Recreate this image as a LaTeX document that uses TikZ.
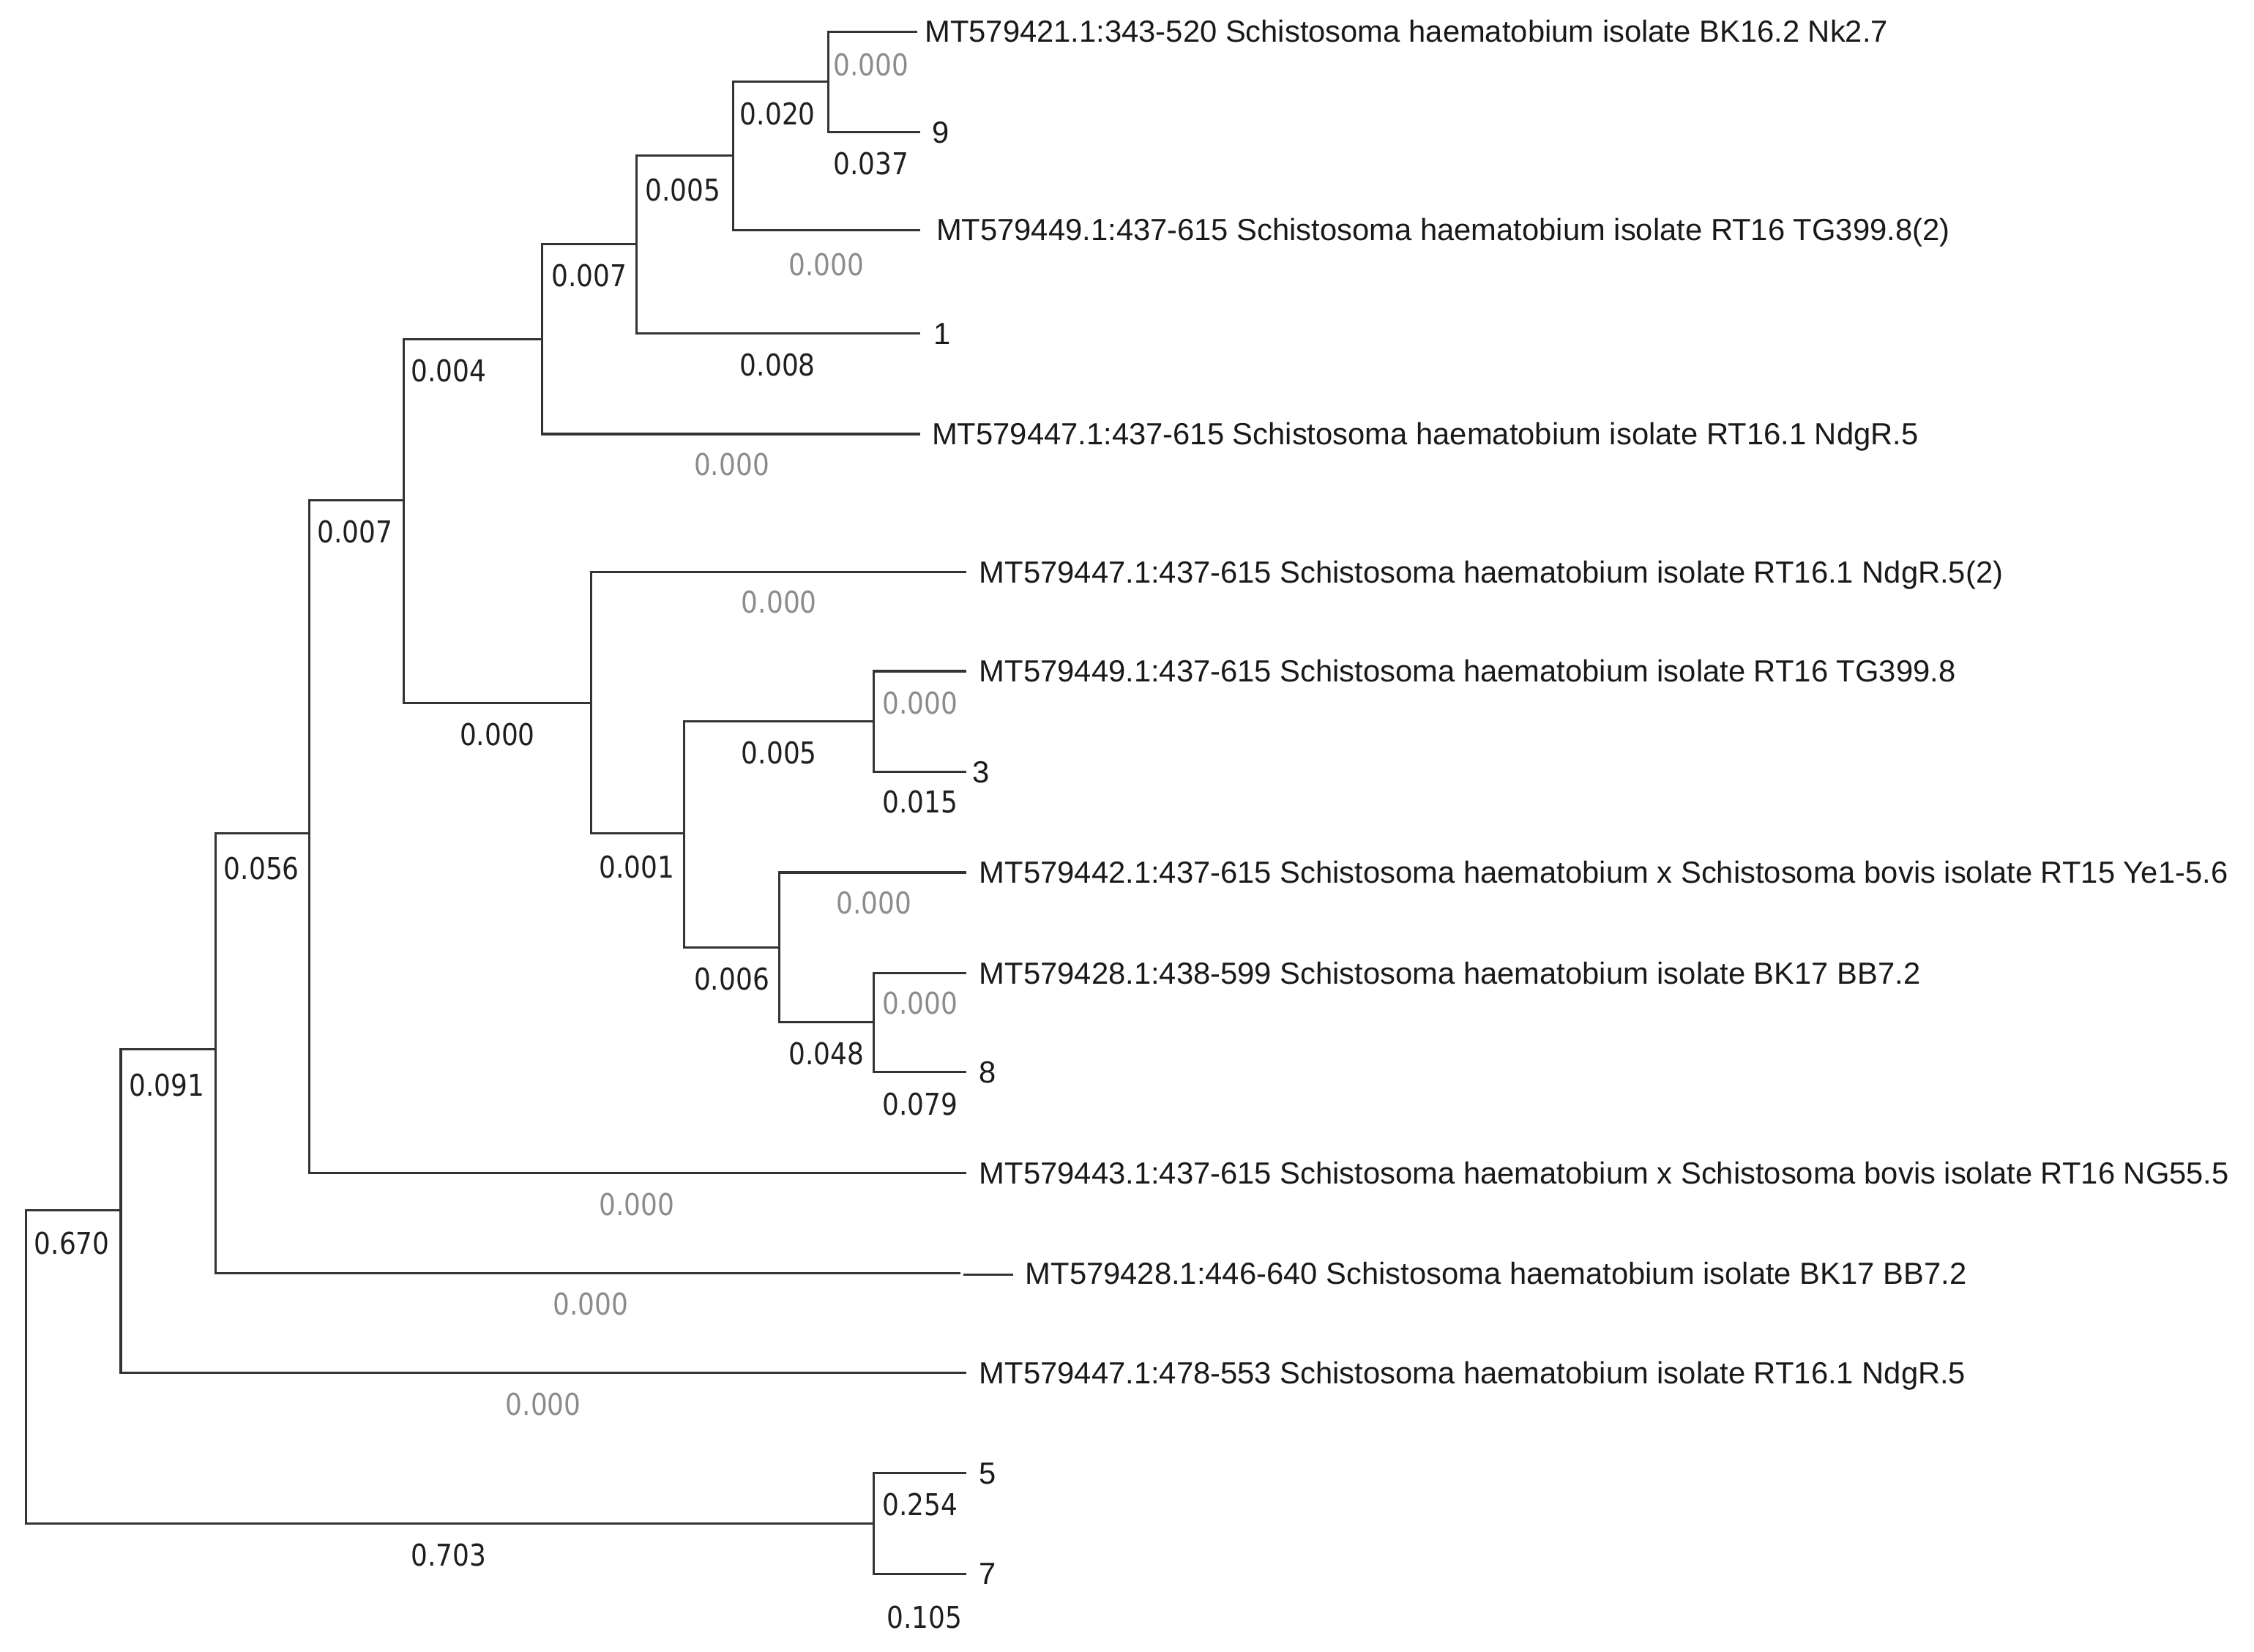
\documentclass[tikz,border=0pt]{standalone}
\usepackage{fontspec}
\setmainfont{Liberation Sans}
\newfontfamily\numfont{DejaVu Sans}
\newcommand\brnum[1]{\scalebox{0.875}[1]{\numfont #1}}
\begin{document}
\begin{tikzpicture}[x=0.02cm,y=-0.02cm,
  br/.style={draw=black!80, line width=0.9pt},
  leaflab/.style={anchor=west, inner sep=0pt, text height=0.30cm, text depth=0pt,
    font=\fontsize{12.1}{14}\selectfont, text=black!90},
  blab/.style={inner sep=0pt, text height=0.305cm, text depth=0pt,
    font=\fontsize{11.9}{14}\selectfont, text=black!88},
  glab/.style={blab, text=black!45}]
\useasboundingbox (0,0) rectangle (1568,1149);
% internal nodes (x, y of incoming branch)
\coordinate (R) at (18,951);
\coordinate (A) at (84,842);
\coordinate (B) at (150,730);
\coordinate (C) at (215,580);
\coordinate (D) at (281,348);
\coordinate (E) at (377,236);
\coordinate (G) at (443,170);
\coordinate (H) at (510,108);
\coordinate (I) at (576,57);
\coordinate (F) at (411,489);
\coordinate (J) at (476,580);
\coordinate (K) at (608,502);
\coordinate (L) at (542,659);
\coordinate (M) at (608,711);
\coordinate (N) at (608,1060);
% leaf ends
\coordinate (e1) at (638,22);
\coordinate (e2) at (640,92);
\coordinate (e3) at (640,160);
\coordinate (e4) at (640,232);
\coordinate (e5) at (640,302);
\coordinate (e6) at (672,398);
\coordinate (e7) at (672,467);
\coordinate (e8) at (672,537);
\coordinate (e9) at (672,607);
\coordinate (e10) at (672,677);
\coordinate (e11) at (672,746);
\coordinate (e12) at (672,816);
\coordinate (e13) at (668,886);
\coordinate (e13b) at (670,887);
\coordinate (e13c) at (705,887);
\coordinate (e14) at (672,955);
\coordinate (e15) at (672,1025);
\coordinate (e16) at (672,1095);
% leaf labels
\node[leaflab] (t1) at (643,22) {MT579421.1:343-520 Schistosoma haematobium isolate BK16.2 Nk2.7};
\node[leaflab] (t2) at (648,92) {9};
\node[leaflab] (t3) at (651,160) {MT579449.1:437-615 Schistosoma haematobium isolate RT16 TG399.8(2)};
\node[leaflab] (t4) at (649,232) {1};
\node[leaflab] (t5) at (648,302) {MT579447.1:437-615 Schistosoma haematobium isolate RT16.1 NdgR.5};
\node[leaflab] (t6) at (681,398) {MT579447.1:437-615 Schistosoma haematobium isolate RT16.1 NdgR.5(2)};
\node[leaflab] (t7) at (681,467) {MT579449.1:437-615 Schistosoma haematobium isolate RT16 TG399.8};
\node[leaflab] (t8) at (676,537) {3};
\node[leaflab] (t9) at (681,607) {MT579442.1:437-615 Schistosoma haematobium x Schistosoma bovis isolate RT15 Ye1-5.6};
\node[leaflab] (t10) at (681,677) {MT579428.1:438-599 Schistosoma haematobium isolate BK17 BB7.2};
\node[leaflab] (t11) at (681,746) {8};
\node[leaflab] (t12) at (681,816) {MT579443.1:437-615 Schistosoma haematobium x Schistosoma bovis isolate RT16 NG55.5};
\node[leaflab] (t13) at (713,886) {MT579428.1:446-640 Schistosoma haematobium isolate BK17 BB7.2};
\node[leaflab] (t14) at (681,955) {MT579447.1:478-553 Schistosoma haematobium isolate RT16.1 NdgR.5};
\node[leaflab] (t15) at (681,1025) {5};
\node[leaflab] (t16) at (681,1095) {7};
% branches
\draw[br] (R) |- (A);
\draw[br] (R) |- (N);
\draw[br] (A) |- (B);
\draw[br] (A) |- (e14);
\draw[br] (B) |- (C);
\draw[br] (B) |- (e13);
\draw[br] (e13b) -- (e13c);
\draw[br] (C) |- (D);
\draw[br] (C) |- (e12);
\draw[br] (D) |- (E);
\draw[br] (D) |- (F);
\draw[br] (E) |- (G);
\draw[br] (E) |- (e5);
\draw[br] (G) |- (H);
\draw[br] (G) |- (e4);
\draw[br] (H) |- (I);
\draw[br] (H) |- (e3);
\draw[br] (I) |- (e1);
\draw[br] (I) |- (e2);
\draw[br] (F) |- (e6);
\draw[br] (F) |- (J);
\draw[br] (J) |- (K);
\draw[br] (J) |- (L);
\draw[br] (K) |- (e7);
\draw[br] (K) |- (e8);
\draw[br] (L) |- (e9);
\draw[br] (L) |- (M);
\draw[br] (M) |- (e10);
\draw[br] (M) |- (e11);
\draw[br] (N) |- (e15);
\draw[br] (N) |- (e16);
% branch length labels
\node[glab] (b1) at (606,45) {\brnum{0.000}};
\node[blab] (b2) at (541,79) {\brnum{0.020}};
\node[blab] (b3) at (606,114) {\brnum{0.037}};
\node[blab] (b4) at (475,132) {\brnum{0.005}};
\node[glab] (b5) at (575,184) {\brnum{0.000}};
\node[blab] (b6) at (410,192) {\brnum{0.007}};
\node[blab] (b7) at (541,254) {\brnum{0.008}};
\node[blab] (b8) at (312,258) {\brnum{0.004}};
\node[glab] (b9) at (509,323) {\brnum{0.000}};
\node[blab] (b10) at (247,370) {\brnum{0.007}};
\node[glab] (b11) at (542,419) {\brnum{0.000}};
\node[glab] (b12) at (640,489) {\brnum{0.000}};
\node[blab] (b13) at (346,511) {\brnum{0.000}};
\node[blab] (b14) at (542,524) {\brnum{0.005}};
\node[blab] (b15) at (640,558) {\brnum{0.015}};
\node[blab] (b16) at (443,603) {\brnum{0.001}};
\node[blab] (b17) at (182,604) {\brnum{0.056}};
\node[glab] (b18) at (608,628) {\brnum{0.000}};
\node[blab] (b19) at (509,681) {\brnum{0.006}};
\node[glab] (b20) at (640,698) {\brnum{0.000}};
\node[blab] (b21) at (575,733) {\brnum{0.048}};
\node[blab] (b22) at (116,755) {\brnum{0.091}};
\node[blab] (b23) at (640,768) {\brnum{0.079}};
\node[glab] (b24) at (443,838) {\brnum{0.000}};
\node[blab] (b25) at (50,865) {\brnum{0.670}};
\node[glab] (b26) at (411,907) {\brnum{0.000}};
\node[glab] (b27) at (378,977) {\brnum{0.000}};
\node[blab] (b28) at (640,1047) {\brnum{0.254}};
\node[blab] (b29) at (312,1082) {\brnum{0.703}};
\node[blab] (b30) at (643,1125) {\brnum{0.105}};
\end{tikzpicture}
\end{document}
